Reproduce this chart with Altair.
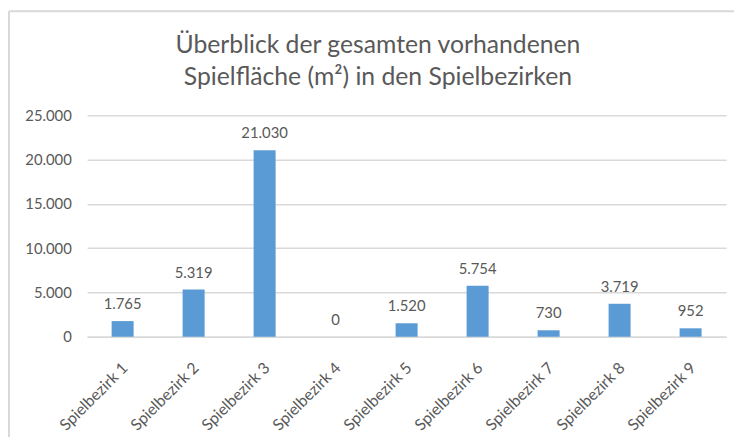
import altair as alt
import pandas as pd

categories = ["Spielbezirk 1", "Spielbezirk 2", "Spielbezirk 3", "Spielbezirk 4", "Spielbezirk 5",
              "Spielbezirk 6", "Spielbezirk 7", "Spielbezirk 8", "Spielbezirk 9"]
values = [1765, 5319, 21030, 0, 1520, 5754, 730, 3719, 952]
y_ticks = [0, 5000, 10000, 15000, 20000, 25000]
title_lines = ["Überblick der gesamten vorhandenen", "Spielfläche (m²) in den Spielbezirken"]

df = pd.DataFrame({"Bezirk": categories, "Wert": values})

FONT = "Lato"
GRAY = "#595959"
GRID = "#D9D9D9"

x_enc = alt.X("Bezirk:N", sort=categories, title=None,
              scale=alt.Scale(paddingInner=0.69, paddingOuter=0.345),
              axis=alt.Axis(labelAngle=-45, labelAlign="right", labelBaseline="top",
                            labelPadding=23, labelOffset=-3, ticks=False,
                            domainColor=GRID, domainWidth=1.5,
                            labelFont=FONT, labelFontSize=16, labelColor=GRAY))
y_enc = alt.Y("Wert:Q", title=None,
              scale=alt.Scale(domain=[0, 25000], nice=False),
              axis=alt.Axis(values=y_ticks, domain=False, ticks=False, labelPadding=16,
                            gridColor=GRID, gridWidth=1.5,
                            labelFont=FONT, labelFontSize=15, labelColor=GRAY,
                            labelExpr="replace(format(datum.value, ','), ',', '.')"))

base = alt.Chart(df)

bars = base.mark_bar(color="#5B9BD5").encode(x=x_enc, y=y_enc)

labels = base.transform_calculate(
    lab="replace(format(datum.Wert, ','), ',', '.')"
).mark_text(baseline="bottom", dy=-9, font=FONT, fontSize=15, color=GRAY).encode(
    x=alt.X("Bezirk:N", sort=categories),
    y=alt.Y("Wert:Q"),
    text="lab:N",
)

frame_left = alt.Chart(pd.DataFrame({"a": [0]})).mark_rule(color=GRID, strokeWidth=2).encode(
    x=alt.value(-79), y=alt.value(-105), y2=alt.value(330))
frame_top = alt.Chart(pd.DataFrame({"a": [0]})).mark_rule(color=GRID, strokeWidth=2).encode(
    x=alt.value(-79), x2=alt.value(660), y=alt.value(-105))

chart = alt.layer(bars, labels, frame_left, frame_top).properties(
    width=646,
    height=224,
    padding={"left": 80, "top": 106, "right": 8, "bottom": 99},
    autosize=alt.AutoSizeParams(type="none"),
    title=alt.TitleParams(text=title_lines, font=FONT, fontSize=25, fontWeight="normal",
                          color=GRAY, anchor="middle", frame="group", dx=-29,
                          baseline="bottom", offset=0, dy=106, lineHeight=33),
).configure_view(stroke=None)

chart.save("out.html", embed_options={"renderer": "svg", "actions": False})
